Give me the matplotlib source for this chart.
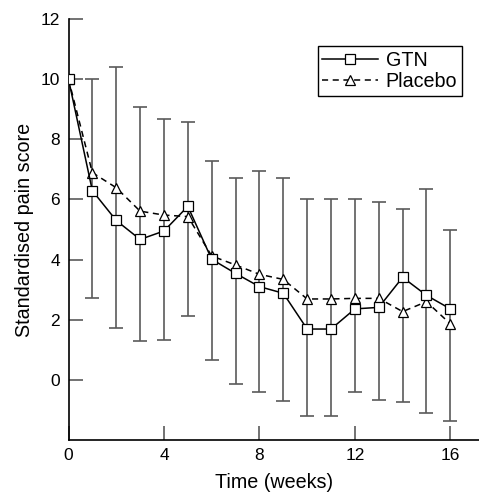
import matplotlib as mpl
import matplotlib.pyplot as plt
import numpy as np

mpl.rcParams.update({
    "font.family": ["Liberation Sans", "DejaVu Sans"],
    "font.size": 14.2,
})

# ---- data ----
weeks = np.arange(0, 17)
gtn = [10.0, 6.29, 5.30, 4.67, 4.95, 5.77, 4.01, 3.54, 3.10, 2.88,
       1.69, 1.69, 2.36, 2.41, 3.41, 2.81, 2.36]
placebo = [10.0, 6.89, 6.39, 5.61, 5.48, 5.43, 4.12, 3.82, 3.51, 3.34,
           2.69, 2.69, 2.71, 2.71, 2.27, 2.60, 1.86]

# error bar ends (weeks 1..16)
err_weeks = np.arange(1, 17)
err_upper = [10.0, 10.39, 9.07, 8.66, 8.57, 7.29, 6.70, 6.95, 6.70,
             6.0, 6.0, 6.0, 5.92, 5.68, 6.35, 4.98]
err_lower = [2.73, 1.74, 1.28, 1.32, 2.13, 0.67, -0.13, -0.39, -0.71,
             -1.2, -1.2, -0.42, -0.67, -0.75, -1.09, -1.36]

ERR_COLOR = "#5a5a5a"

fig = plt.figure(figsize=(4.79, 4.93), dpi=100)
ax = fig.add_axes([68.5 / 479, 1 - 440 / 493, 1 - 68.5 / 479, (440 - 19) / 493])

# error bars: vertical line with caps at both ends
lo = np.array(err_lower)
hi = np.array(err_upper)
mid = (lo + hi) / 2
ax.errorbar(err_weeks, mid, yerr=(hi - lo) / 2, fmt="none",
            ecolor=ERR_COLOR, elinewidth=1.2, capsize=4.7, capthick=1.2,
            zorder=1)

ax.plot(weeks, placebo, color="black", linestyle=(0, (4, 3)), linewidth=1.1,
        marker="^", markersize=7.5, markerfacecolor="white",
        markeredgecolor="black", markeredgewidth=0.9, label="Placebo",
        zorder=3)
ax.plot(weeks, gtn, color="black", linestyle="-", linewidth=1.1,
        marker="s", markersize=6.5, markerfacecolor="white",
        markeredgecolor="black", markeredgewidth=0.9, label="GTN",
        zorder=4)

ax.set_xlim(0, 17.2)
ax.set_ylim(-2, 12)
ax.set_xticks([0, 4, 8, 12, 16])
ax.set_yticks([0, 2, 4, 6, 8, 10, 12])
ax.tick_params(direction="in", length=10, width=1.2, color=ERR_COLOR,
               labelsize=12.5, pad=6)
for s in ("top", "right"):
    ax.spines[s].set_visible(False)
for s in ("left", "bottom"):
    ax.spines[s].set_linewidth(1.2)

ax.set_xlabel("Time (weeks)", labelpad=7)
ax.set_ylabel("Standardised pain score", labelpad=5)

h, l = ax.get_legend_handles_labels()
leg = ax.legend(h[::-1], l[::-1], loc="upper right",
                bbox_to_anchor=(462 / 479, 1 - 46 / 493),
                bbox_transform=fig.transFigure, borderaxespad=0,
                fancybox=False, edgecolor="black", framealpha=1,
                handlelength=2.8, handletextpad=0.4, borderpad=0.25,
                labelspacing=0.1, fontsize=14.2)
leg.get_frame().set_linewidth(1.0)

fig.savefig("out.png", dpi=100)
